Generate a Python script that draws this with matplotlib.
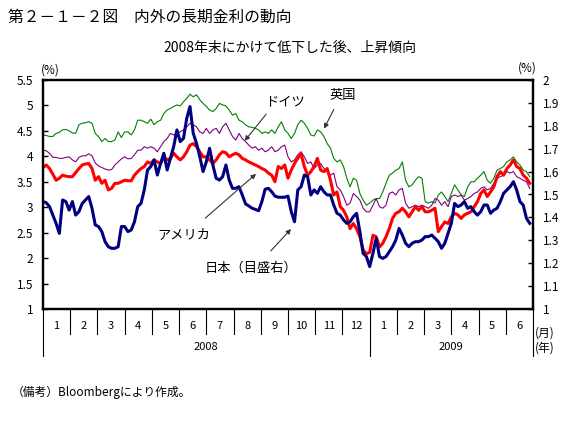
import matplotlib
matplotlib.use("Agg")
import matplotlib.pyplot as plt
import matplotlib.transforms as mtransforms
import numpy as np

plt.rcParams['font.family'] = ['Noto Sans CJK JP', 'DejaVu Sans']

# ~2 observations per week, Jan 2008 - Jun 2009 (x in months from 2008/1/1)
n_obs = 150
months = ["1", "2", "3", "4", "5", "6", "7", "8", "9", "10", "11", "12",
          "1", "2", "3", "4", "5", "6"]
years = ["2008", "2009"]

# UK 10y (%)
uk = [4.42, 4.41, 4.39, 4.39, 4.45, 4.47, 4.52, 4.53, 4.50, 4.46,
      4.45, 4.62, 4.65, 4.66, 4.68, 4.65, 4.45, 4.39, 4.29, 4.35,
      4.29, 4.29, 4.32, 4.48, 4.37, 4.48, 4.48, 4.42, 4.52, 4.71,
      4.71, 4.68, 4.65, 4.73, 4.62, 4.68, 4.71, 4.84, 4.91, 4.94,
      4.98, 5.01, 4.99, 5.07, 5.14, 5.22, 5.17, 5.21, 5.11, 5.04,
      4.98, 4.91, 4.88, 4.94, 5.04, 5.01, 4.99, 4.91, 4.81, 4.84,
      4.71, 4.68, 4.62, 4.58, 4.57, 4.55, 4.52, 4.45, 4.48, 4.45,
      4.52, 4.45, 4.58, 4.68, 4.52, 4.45, 4.35, 4.45, 4.62, 4.71,
      4.65, 4.55, 4.42, 4.40, 4.52, 4.48, 4.39, 4.25, 4.16, 3.96,
      3.89, 3.93, 3.80, 3.57, 3.40, 3.57, 3.53, 3.27, 3.14, 3.04,
      3.08, 3.14, 3.17, 3.17, 3.30, 3.47, 3.63, 3.67, 3.73, 3.76,
      3.89, 3.53, 3.40, 3.44, 3.53, 3.60, 3.57, 3.11, 3.08, 3.11,
      3.08, 3.24, 3.30, 3.21, 3.11, 3.27, 3.44, 3.34, 3.24, 3.21,
      3.40, 3.50, 3.50, 3.57, 3.63, 3.70, 3.53, 3.47, 3.57, 3.73,
      3.76, 3.80, 3.89, 3.93, 3.99, 3.89, 3.83, 3.73, 3.70, 3.60]

# Germany 10y (%)
germany = [4.12, 4.11, 4.06, 3.98, 3.98, 3.96, 3.96, 3.98, 3.99, 3.93,
           3.89, 3.98, 4.01, 4.01, 4.05, 4.01, 3.87, 3.81, 3.78, 3.75,
           3.73, 3.74, 3.83, 3.89, 3.95, 3.99, 3.95, 3.96, 4.03, 4.12,
           4.12, 4.19, 4.16, 4.19, 4.16, 4.09, 4.19, 4.29, 4.35, 4.45,
           4.42, 4.45, 4.48, 4.52, 4.58, 4.65, 4.62, 4.58, 4.48, 4.45,
           4.55, 4.45, 4.52, 4.55, 4.45, 4.58, 4.65, 4.52, 4.39, 4.32,
           4.45, 4.35, 4.29, 4.22, 4.16, 4.19, 4.12, 4.16, 4.09, 4.12,
           4.19, 4.09, 4.12, 4.19, 4.22, 3.99, 3.89, 3.93, 4.03, 4.09,
           3.99, 3.86, 3.89, 3.76, 3.83, 3.86, 3.76, 3.70, 3.63, 3.67,
           3.40, 3.34, 3.21, 3.04, 3.08, 3.27, 3.21, 3.14, 2.98, 2.91,
           2.91, 3.04, 3.17, 3.01, 2.98, 3.04, 3.27, 3.30, 3.24, 3.34,
           3.37, 3.08, 2.98, 3.01, 3.04, 3.01, 3.04, 3.01, 2.98, 3.04,
           3.17, 3.14, 3.04, 3.11, 3.01, 3.21, 3.24, 3.21, 3.24, 3.14,
           3.17, 3.21, 3.27, 3.30, 3.37, 3.40, 3.34, 3.37, 3.47, 3.57,
           3.60, 3.63, 3.70, 3.67, 3.70, 3.60, 3.57, 3.53, 3.50, 3.37]

# US 10y (%)
us = [3.78, 3.83, 3.76, 3.65, 3.53, 3.57, 3.63, 3.61, 3.60, 3.60,
      3.68, 3.76, 3.83, 3.85, 3.86, 3.76, 3.53, 3.60, 3.47, 3.53,
      3.34, 3.37, 3.47, 3.47, 3.50, 3.53, 3.52, 3.52, 3.63, 3.70,
      3.76, 3.80, 3.89, 3.86, 3.93, 3.89, 3.86, 3.99, 3.93, 3.96,
      4.06, 3.99, 3.93, 3.99, 4.09, 4.22, 4.25, 4.19, 4.09, 3.99,
      3.99, 3.93, 3.86, 3.93, 4.03, 4.09, 4.07, 3.99, 4.03, 4.06,
      4.03, 3.96, 3.93, 3.89, 3.86, 3.83, 3.80, 3.76, 3.73, 3.67,
      3.63, 3.50, 3.80, 3.76, 3.83, 3.57, 3.73, 3.86, 3.96, 4.05,
      3.80, 3.63, 3.70, 3.80, 3.96, 3.73, 3.70, 3.76, 3.53, 3.24,
      3.30, 3.01, 2.94, 2.81, 2.58, 2.68, 2.58, 2.42, 2.16, 2.09,
      2.11, 2.45, 2.42, 2.22, 2.29, 2.42, 2.58, 2.78, 2.88, 2.91,
      2.98, 2.91, 2.81, 2.91, 3.01, 2.94, 3.01, 2.91, 2.91, 2.94,
      2.98, 2.52, 2.62, 2.71, 2.68, 2.81, 2.88, 2.85, 2.78, 2.85,
      2.88, 2.91, 3.01, 3.11, 3.27, 3.34, 3.21, 3.30, 3.40, 3.60,
      3.70, 3.63, 3.76, 3.83, 3.93, 3.80, 3.76, 3.63, 3.57, 3.47]

# Japan 10y (%, right axis)
japan = [1.469, 1.464, 1.447, 1.410, 1.374, 1.330, 1.476, 1.469, 1.432, 1.469,
         1.410, 1.425, 1.461, 1.476, 1.491, 1.440, 1.367, 1.360, 1.338, 1.294,
         1.272, 1.265, 1.265, 1.272, 1.360, 1.360, 1.338, 1.345, 1.381, 1.447,
         1.461, 1.520, 1.607, 1.622, 1.651, 1.585, 1.636, 1.680, 1.607, 1.658,
         1.709, 1.782, 1.731, 1.745, 1.833, 1.884, 1.767, 1.723, 1.665, 1.600,
         1.643, 1.702, 1.629, 1.571, 1.563, 1.578, 1.629, 1.563, 1.527, 1.527,
         1.534, 1.498, 1.459, 1.450, 1.440, 1.435, 1.429, 1.469, 1.523, 1.527,
         1.512, 1.493, 1.488, 1.488, 1.488, 1.493, 1.425, 1.381, 1.520, 1.534,
         1.585, 1.578, 1.498, 1.520, 1.505, 1.534, 1.512, 1.498, 1.498, 1.454,
         1.418, 1.410, 1.389, 1.374, 1.381, 1.403, 1.418, 1.338, 1.243, 1.229,
         1.185, 1.243, 1.309, 1.229, 1.221, 1.229, 1.250, 1.272, 1.301, 1.352,
         1.323, 1.287, 1.272, 1.287, 1.294, 1.294, 1.301, 1.316, 1.316, 1.323,
         1.309, 1.294, 1.265, 1.287, 1.330, 1.374, 1.461, 1.447, 1.454, 1.469,
         1.440, 1.447, 1.425, 1.410, 1.425, 1.454, 1.454, 1.418, 1.432, 1.440,
         1.469, 1.505, 1.520, 1.534, 1.556, 1.520, 1.469, 1.454, 1.396, 1.374]

t = np.arange(n_obs) * 18.0 / n_obs

fig = plt.figure(figsize=(5.87, 4.25), dpi=100)
ax = fig.add_axes([43 / 587, 116 / 425, 490 / 587, 229 / 425])
ax2 = ax.twinx()

ax.plot(t, uk, color="#008000", lw=0.8)
ax.plot(t, germany, color="#800080", lw=0.8)
ax.plot(t, us, color="#ff0000", lw=2.2)
ax2.plot(t, japan, color="#000080", lw=2.2)

ax.set_xlim(0, 18)
ax.set_ylim(1, 5.5)
ax2.set_ylim(1, 2)
ax.set_yticks(np.arange(1, 5.51, 0.5))
ax2.set_yticks(np.arange(1, 2.01, 0.1))
ax.set_yticklabels(["%g" % v for v in np.arange(1, 5.51, 0.5)])
ax2.set_yticklabels(["%g" % round(v, 1) for v in np.arange(1, 2.01, 0.1)])
ax.set_xticks([])
ax.tick_params(axis="y", direction="in", length=3.5, width=1, labelsize=8.5, pad=7)
ax2.tick_params(axis="y", direction="in", length=3.5, width=1, labelsize=8.5, pad=7)
for a in (ax, ax2):
    for s in a.spines.values():
        s.set_linewidth(1.6)

# month / year grid below the axis
trans = mtransforms.blended_transform_factory(ax.transData, ax.transAxes)
for m in range(1, 18):
    if m == 12:
        continue
    ax.plot([m, m], [0, -0.109], color="black", lw=0.8, transform=trans, clip_on=False)
for m in (0, 12, 18):
    ax.plot([m, m], [0, -0.205], color="black", lw=0.8, transform=trans, clip_on=False)
for i, lab in enumerate(months):
    ax.text(i + 0.5, -0.074, lab, transform=trans, ha="center", va="center", fontsize=8)
ax.text(6, -0.166, years[0], transform=trans, ha="center", va="center", fontsize=8)
ax.text(15, -0.166, years[1], transform=trans, ha="center", va="center", fontsize=8)
ax.text(1.024, -0.105, "(月)", transform=ax.transAxes, ha="center", va="center", fontsize=8.5)
ax.text(1.024, -0.17, "(年)", transform=ax.transAxes, ha="center", va="center", fontsize=8.5)

ax.text(0.015, 1.044, "(%)", transform=ax.transAxes, ha="center", va="center", fontsize=8.5)
ax.text(0.988, 1.052, "(%)", transform=ax.transAxes, ha="center", va="center", fontsize=8.5)

# labels with arrows
arrow = dict(arrowstyle="-|>", color="#333333", lw=0.8, mutation_scale=7)
notes = [("ドイツ", (0.494, 0.904), (0.459, 0.860), (0.408, 0.725)),
         ("英国", (0.612, 0.934), (0.596, 0.882), (0.571, 0.777)),
         ("アメリカ", (0.288, 0.323), (0.327, 0.389), (0.439, 0.598)),
         ("日本（目盛右）", (0.424, 0.179), (0.461, 0.245), (0.510, 0.358))]
for lab, pos, start, end in notes:
    ax2.text(pos[0], pos[1], lab, transform=ax.transAxes, ha="center", va="center", fontsize=9.5)
    ax2.annotate("", xy=end, xytext=start, xycoords="axes fraction",
                 textcoords="axes fraction", arrowprops=arrow)

fig.text(8 / 587, 1 - 17 / 425, "第２－１－２図　内外の長期金利の動向", ha="left", va="center", fontsize=11.3)
fig.text(290 / 587, 1 - 48 / 425, "2008年末にかけて低下した後、上昇傾向", ha="center", va="center", fontsize=10)
fig.text(12 / 587, 1 - 392 / 425, "（備考）Bloombergにより作成。", ha="left", va="center", fontsize=8.5)

fig.savefig("out.png", dpi=100)
